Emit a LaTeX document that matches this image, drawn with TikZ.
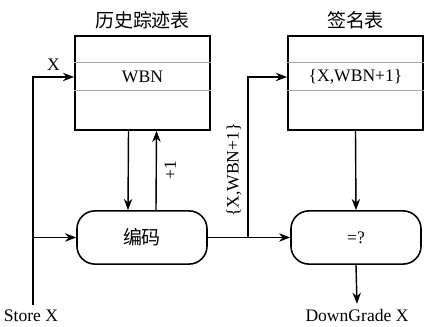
\documentclass[tikz,border=0pt]{standalone}
\usepackage{fontspec}
\setmainfont{Liberation Serif}
\newfontfamily\cjk{Noto Sans CJK SC}
\usepackage{tikz}
\usetikzlibrary{arrows.meta}

\begin{document}
\begin{tikzpicture}[x=0.025cm, y=-0.025cm, font=\rmfamily\fontsize{12.5}{15}\selectfont,
  tbl/.style={draw, line width=1.1pt, minimum width=3.38cm, minimum height=2.35cm,
              inner sep=0pt},
  proc/.style={draw, line width=1.1pt, rounded corners=0.45cm, minimum width=3.25cm,
               minimum height=1.33cm, inner sep=0pt},
  ttl/.style={font=\cjk\fontsize{13.5}{15}\selectfont, inner sep=1pt},
  row/.style={gray!70, line width=0.6pt},
  arr/.style={-{Stealth[length=2.8mm, width=2.1mm]}, line width=1pt}]
\useasboundingbox (0,0) rectangle (424,327);

% 两张表(上)
\node[tbl] (hist) at (142.5, 83) {};
\node[tbl] (sig)  at (355.5, 83) {};
\foreach \t in {hist, sig} {
  \draw[row] (\t.west |- 0,62) -- (\t.east |- 0,62);
  \draw[row] (\t.west |- 0,90) -- (\t.east |- 0,90);
}
\node (wbn)    at (142.5, 77) {WBN};
\node (sigrow) at (355.5, 77) {\{X,WBN+1\}};
\node[ttl] (histttl) at (142.5, 20) {历史踪迹表};
\node[ttl] (sigttl)  at (355.5, 20) {签名表};

% 编码与比较(下)
\node[proc, font=\cjk\fontsize{13.5}{15}\selectfont] (enc) at (142, 237.5) {编码};
\node[proc] (cmp) at (356, 237.5) {=?};
\node (storelbl) at (31, 316) {Store X};
\node (down)     at (357, 315) {DownGrade X};
\coordinate (store) at (33, 305);
\coordinate (split) at (248, 237.5);

\draw[arr] (store) |- (wbn -| hist.west) node[pos=0.75, above=1pt]{X};
\draw[arr] (store |- enc.west) -- (enc.west);
\draw[arr] ([xshift=-0.35cm]hist.south) -- ([xshift=-0.35cm]enc.north);
\draw[arr] ([xshift=0.35cm]enc.north) -- ([xshift=0.35cm]hist.south)
  node[midway, right=2pt, rotate=90, anchor=north]{+1};
\draw[arr] (enc.east) -- (cmp.west);
\draw[arr] (split) -- (split |- sigrow)
  node[pos=0.42, sloped, above=1pt]{\{X,WBN+1\}} -- (sigrow -| sig.west);
\draw[arr] (sig.south) -- (cmp.north);
\draw[arr] (cmp.south) -- (down.north);
\end{tikzpicture}
\end{document}
